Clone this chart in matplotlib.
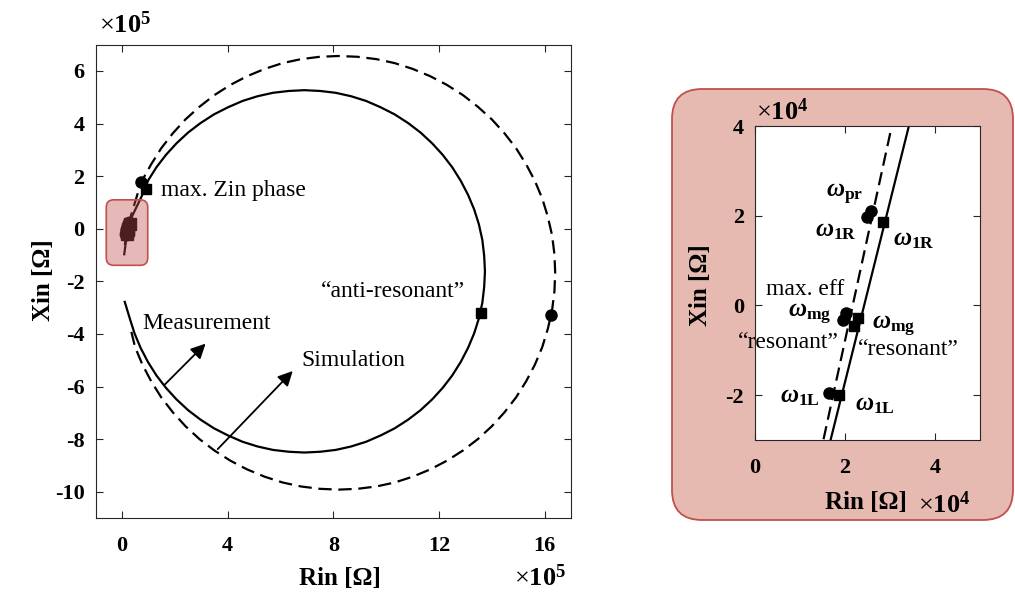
import numpy as np
import matplotlib
matplotlib.use("Agg")
import matplotlib.pyplot as plt
from matplotlib.patches import FancyBboxPatch
from matplotlib.transforms import IdentityTransform

plt.rcParams['font.family'] = ['Liberation Serif', 'DejaVu Serif']
plt.rcParams['mathtext.fontset'] = 'custom'
plt.rcParams['mathtext.rm'] = 'Liberation Serif'
plt.rcParams['mathtext.it'] = 'Liberation Serif:italic:bold'
plt.rcParams['mathtext.bf'] = 'Liberation Serif:bold'
plt.rcParams['axes.unicode_minus'] = False

# impedance locus, units of 1e5 ohm
meas_r = [0.10, 0.29, 0.47, 0.70, 0.98, 1.30, 1.66, 2.06, 2.50, 2.97, 3.48, 4.01,
          4.56, 5.13, 5.71, 6.31, 6.90, 7.50, 8.09, 8.67, 9.24, 9.79, 10.32, 10.83,
          11.30, 11.74, 12.14, 12.50, 12.82, 13.10, 13.33, 13.51, 13.64, 13.71, 13.74,
          13.71, 13.64, 13.51, 13.33, 13.10, 12.82, 12.50, 12.14, 11.74, 11.30, 10.83,
          10.32, 9.79, 9.24, 8.67, 8.09, 7.50, 6.90, 6.31, 5.71, 5.13, 4.56, 4.01,
          3.48, 2.97, 2.50, 2.06, 1.66, 1.30, 0.98, 0.88, 0.342, 0.168, 0.08]
meas_x = [-2.78, -3.41, -3.98, -4.53, -5.07, -5.58, -6.05, -6.49, -6.90, -7.26, -7.59,
          -7.86, -8.10, -8.28, -8.41, -8.48, -8.51, -8.48, -8.41, -8.28, -8.10, -7.86,
          -7.59, -7.26, -6.90, -6.49, -6.05, -5.58, -5.07, -4.53, -3.98, -3.41, -2.82,
          -2.22, -1.62, -1.02, -0.42, 0.17, 0.74, 1.29, 1.83, 2.34, 2.81, 3.25, 3.66,
          4.02, 4.35, 4.62, 4.86, 5.04, 5.17, 5.24, 5.27, 5.24, 5.17, 5.04, 4.86, 4.62,
          4.35, 4.02, 3.66, 3.25, 2.81, 2.34, 1.83, 1.53, 0.40, -0.30, -0.97]

sim_r = [0.35, 0.49, 0.77, 1.10, 1.48, 1.92, 2.40, 2.93, 3.49, 4.10, 4.73, 5.40,
         6.08, 6.77, 7.49, 8.20, 8.91, 9.63, 10.32, 11.00, 11.67, 12.30, 12.91, 13.47,
         14.00, 14.48, 14.92, 15.30, 15.63, 15.91, 16.12, 16.28, 16.37, 16.40, 16.37,
         16.28, 16.12, 15.91, 15.63, 15.30, 14.92, 14.48, 14.00, 13.47, 12.91, 12.30,
         11.67, 11.00, 10.32, 9.63, 8.91, 8.20, 7.49, 6.77, 6.08, 5.40, 4.73, 4.10,
         3.49, 2.93, 2.40, 1.92, 1.48, 1.10, 0.72, 0.304, 0.152, 0.06]
sim_x = [-3.92, -4.50, -5.17, -5.80, -6.41, -6.98, -7.51, -8.00, -8.43, -8.82, -9.15,
         -9.43, -9.65, -9.80, -9.89, -9.92, -9.89, -9.80, -9.65, -9.43, -9.15, -8.82,
         -8.43, -8.00, -7.51, -6.98, -6.41, -5.80, -5.17, -4.50, -3.81, -3.11, -2.39,
         -1.68, -0.96, -0.24, 0.46, 1.15, 1.82, 2.45, 3.06, 3.63, 4.16, 4.64, 5.08,
         5.47, 5.80, 6.08, 6.30, 6.45, 6.54, 6.57, 6.54, 6.45, 6.30, 6.08, 5.80, 5.47,
         5.08, 4.64, 4.16, 3.63, 3.06, 2.45, 1.77, 0.40, -0.30, -0.85]

# marked points on the big plot (1e5 ohm)
mk_meas_r = [0.91, 13.58]
mk_meas_x = [1.53, -3.20]
mk_sim_r = [0.70, 16.23]
mk_sim_x = [1.77, -3.29]

# marked points in the zoom (1e4 ohm)
zm_sim_r = [2.57, 2.48, 2.02, 1.96, 1.65]
zm_sim_x = [2.10, 1.98, -0.16, -0.33, -1.96]
zm_meas_r = [2.84, 2.30, 2.21, 1.87]
zm_meas_x = [1.86, -0.27, -0.46, -2.00]

red_fill = '#c0504d'
ink = '#262626'


def style_axes(ax):
    for s in ax.spines.values():
        s.set_color(ink)
        s.set_linewidth(0.8)
    ax.tick_params(direction='in', top=True, right=True, length=5, width=0.8,
                   color=ink, labelsize=16)
    ax.tick_params(axis='x', pad=13)
    ax.tick_params(axis='y', pad=8)
    for lab in ax.get_xticklabels() + ax.get_yticklabels():
        lab.set_fontweight('bold')


fig = plt.figure(figsize=(10.15, 5.99), dpi=100)

# background panel behind the zoom
bg = FancyBboxPatch((672, 79), 341, 431, boxstyle="round,pad=0,rounding_size=30",
                    transform=IdentityTransform(), facecolor='#e6b9b1',
                    edgecolor=red_fill, lw=1.3, zorder=-1)
fig.add_artist(bg)

# ---- main plot ----
ax = fig.add_axes([0.0943, 0.1352, 0.4683, 0.7902])
ax.plot(meas_r, meas_x, color='k', lw=1.6)
ax.plot(sim_r, sim_x, color='k', lw=1.6, ls='--', dashes=(6, 3))
ax.plot(mk_meas_r, mk_meas_x, 's', color='k', ms=7)
ax.plot(mk_sim_r, mk_sim_x, 'o', color='k', ms=8)
ax.plot(np.array(zm_sim_r) / 10, np.array(zm_sim_x) / 10, 'o', color='k', ms=9)
ax.plot(np.array(zm_meas_r) / 10, np.array(zm_meas_x) / 10, 's', color='k', ms=8)

box = FancyBboxPatch((-0.6, -1.39), 1.57, 2.49, boxstyle="round,pad=0,rounding_size=0.28",
                     facecolor=red_fill, edgecolor='none', alpha=0.4, zorder=5)
ax.add_patch(box)
box_edge = FancyBboxPatch((-0.6, -1.39), 1.57, 2.49, boxstyle="round,pad=0,rounding_size=0.28",
                          facecolor='none', edgecolor=red_fill, lw=1.2, zorder=6)
ax.add_patch(box_edge)

ax.set_xlim(-1, 17)
ax.set_ylim(-11, 7)
ax.set_xticks([0, 4, 8, 12, 16])
ax.set_yticks(range(-10, 7, 2))
style_axes(ax)

ax.text(1.49, 1.46, 'max. Zin phase', fontsize=17, va='center')
ax.text(7.54, -2.38, '\u201canti-resonant\u201d', fontsize=17, va='center')
ax.text(0.78, -3.59, 'Measurement', fontsize=17, va='center')
ax.text(6.79, -5.0, 'Simulation', fontsize=17, va='center')
arrow = dict(arrowstyle='-|>', color='k', lw=1.3, mutation_scale=22, shrinkA=0, shrinkB=0)
ax.annotate('', xy=(3.16, -4.37), xytext=(1.61, -5.93), arrowprops=arrow)
ax.annotate('', xy=(6.46, -5.41), xytext=(3.62, -8.38), arrowprops=arrow)

ax.set_xlabel('Rin [\u03a9]', fontsize=18, fontweight='bold')
ax.xaxis.label.set_va('center')
ax.xaxis.set_label_coords(0.514, -0.127)
ax.set_ylabel('Xin [\u03a9]', fontsize=18, fontweight='bold')
ax.yaxis.label.set_va('center')
ax.yaxis.set_label_coords(-0.110, 0.503)

fig.text(99 / 1015, 1 - 25 / 599, r'$\times\mathbf{10^5}$', fontsize=19, va='center')
fig.text(514 / 1015, 1 - 578 / 599, r'$\times\mathbf{10^5}$', fontsize=19, va='center')

# ---- zoom ----
ax2 = fig.add_axes([0.7438, 0.2654, 0.2217, 0.5242])
ax2.plot(np.array(meas_r) * 10, np.array(meas_x) * 10, color='k', lw=1.6)
ax2.plot(np.array(sim_r) * 10, np.array(sim_x) * 10, color='k', lw=1.6, ls='--', dashes=(6, 3))
ax2.plot(zm_sim_r, zm_sim_x, 'o', color='k', ms=8)
ax2.plot(zm_meas_r, zm_meas_x, 's', color='k', ms=7.5)
ax2.set_xlim(0, 5)
ax2.set_ylim(-3, 4)
ax2.set_xticks([0, 2, 4])
ax2.set_yticks([-2, 0, 2, 4])
style_axes(ax2)

om = dict(fontsize=18, va='center', clip_on=False)
ax2.text(1.58, 2.48, r'$\omega_{\mathbf{pr}}$', **om)
ax2.text(1.33, 1.65, r'$\omega_{\mathbf{1R}}$', **om)
ax2.text(3.07, 1.47, r'$\omega_{\mathbf{1R}}$', **om)
ax2.text(0.73, -0.20, r'$\omega_{\mathbf{mg}}$', **om)
ax2.text(2.60, -0.47, r'$\omega_{\mathbf{mg}}$', **om)
ax2.text(0.56, -2.05, r'$\omega_{\mathbf{1L}}$', **om)
ax2.text(2.22, -2.21, r'$\omega_{\mathbf{1L}}$', **om)
ax2.text(0.24, 0.36, 'max. eff', fontsize=17, va='center')
ax2.text(-0.38, -0.83, '\u201cresonant\u201d', fontsize=17, va='center', clip_on=False)
ax2.text(2.29, -0.98, '\u201cresonant\u201d', fontsize=17, va='center')

ax2.set_xlabel('Rin [\u03a9]', fontsize=18, fontweight='bold')
ax2.xaxis.label.set_va('center')
ax2.xaxis.set_label_coords(0.493, -0.20)
ax2.set_ylabel('Xin [\u03a9]', fontsize=18, fontweight='bold')
ax2.yaxis.label.set_va('center')
ax2.yaxis.set_label_coords(-0.244, 0.494)

fig.text(918 / 1015, 1 - 505 / 599, r'$\times\mathbf{10^4}$', fontsize=19, va='center')
fig.text(756 / 1015, 1 - 112 / 599, r'$\times\mathbf{10^4}$', fontsize=19, va='center')

fig.savefig('out.png', dpi=100)
